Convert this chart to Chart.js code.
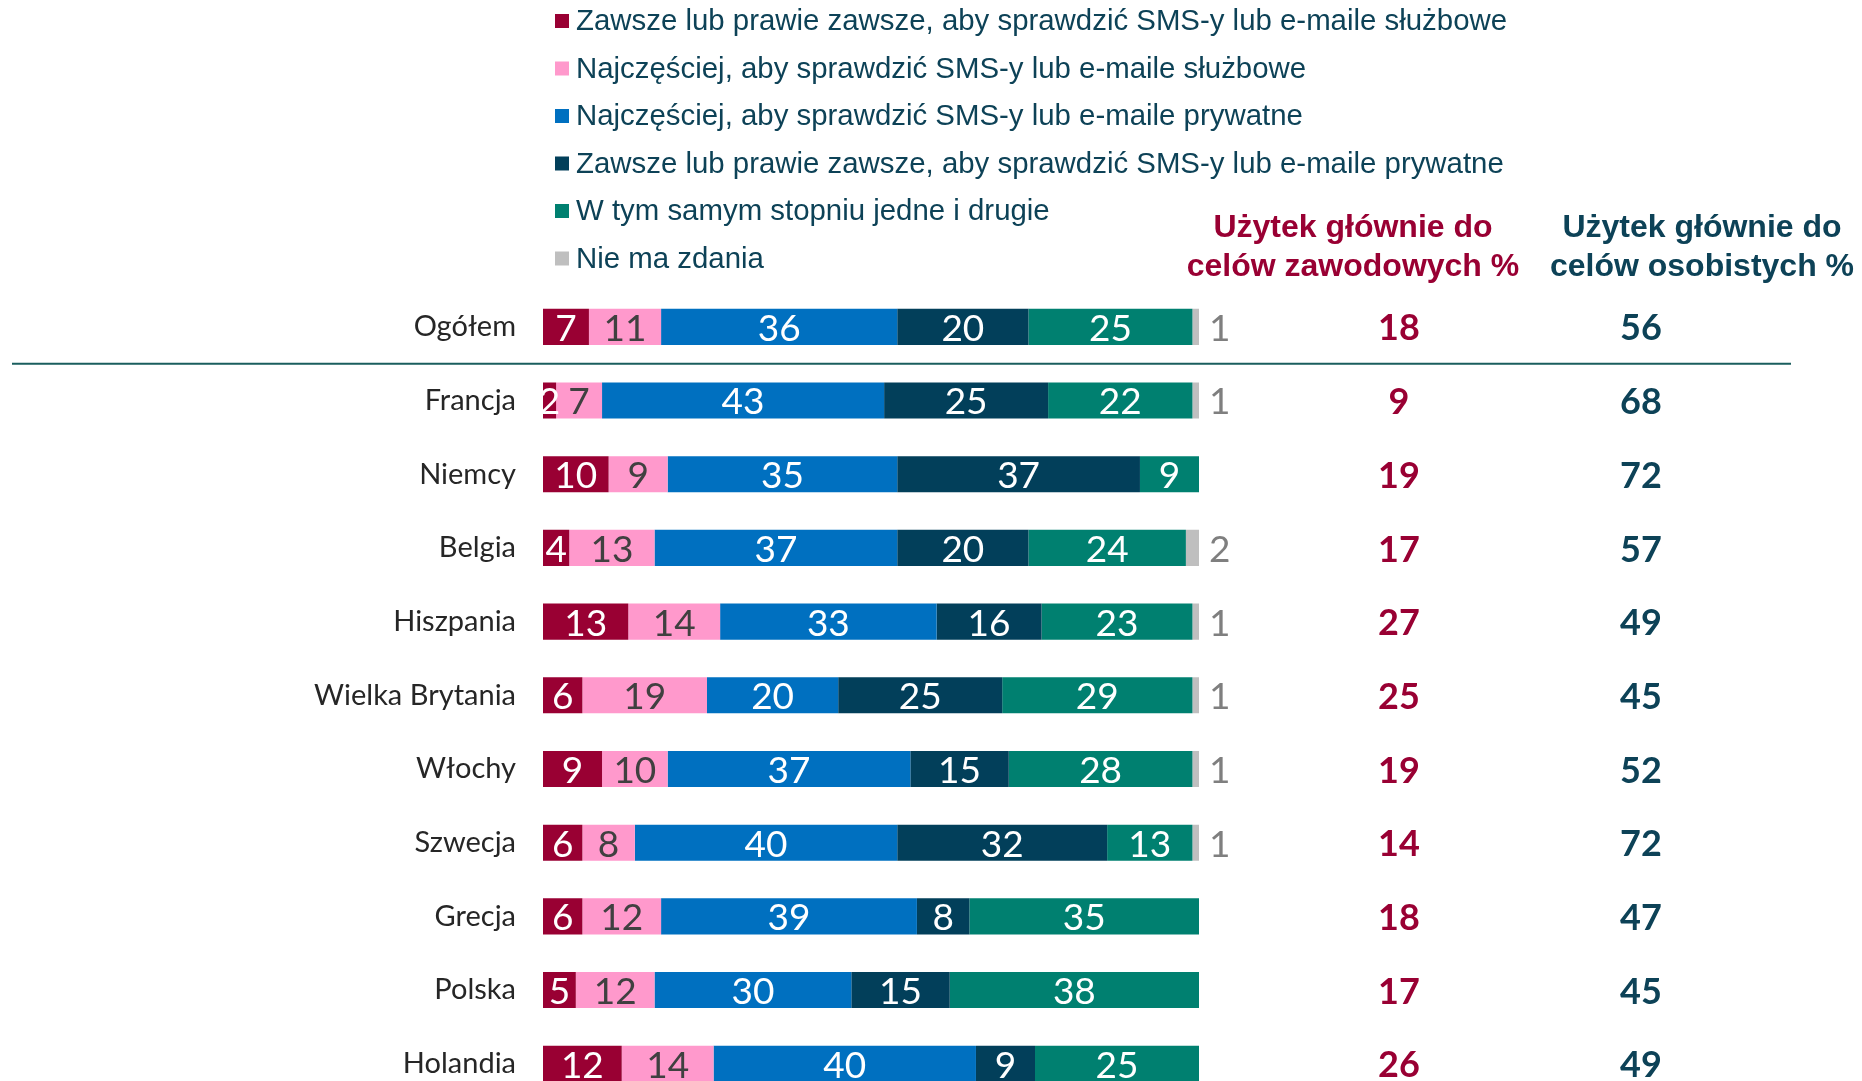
<!DOCTYPE html>
<html lang="pl">
<head>
<meta charset="utf-8">
<title>Użytek telefonu</title>
<script src="https://cdn.jsdelivr.net/npm/chart.js@4.4.1/dist/chart.umd.min.js"></script>
<style>
  html, body { margin: 0; padding: 0; background: #fff; overflow: hidden; }
  canvas { display: block; }
</style>
</head>
<body>
<canvas id="chart" width="1862" height="1145"></canvas>
<script>
// Dane (%)
const categories = ['Ogółem', 'Francja', 'Niemcy', 'Belgia', 'Hiszpania', 'Wielka Brytania', 'Włochy', 'Szwecja', 'Grecja', 'Polska', 'Holandia'];
const workAlways = [7, 2, 10, 4, 13, 6, 9, 6, 6, 5, 12];
const workMostly = [11, 7, 9, 13, 14, 19, 10, 8, 12, 12, 14];
const privMostly = [36, 43, 35, 37, 33, 20, 37, 40, 39, 30, 40];
const privAlways = [20, 25, 37, 20, 16, 25, 15, 32, 8, 15, 9];
const bothEqually = [25, 22, 9, 24, 23, 29, 28, 13, 35, 38, 25];
const noOpinion = [1, 1, null, 2, 1, 1, 1, 1, null, null, null];
const workTotal = [18, 9, 19, 17, 27, 25, 19, 14, 18, 17, 26];
const privTotal = [56, 68, 72, 57, 49, 45, 52, 72, 47, 45, 49];

const seriesLabels = [
    'Zawsze lub prawie zawsze, aby sprawdzić SMS-y lub e-maile służbowe',
    'Najczęściej, aby sprawdzić SMS-y lub e-maile służbowe',
    'Najczęściej, aby sprawdzić SMS-y lub e-maile prywatne',
    'Zawsze lub prawie zawsze, aby sprawdzić SMS-y lub e-maile prywatne',
    'W tym samym stopniu jedne i drugie',
    'Nie ma zdania'
];
const headerWork = ['Użytek głównie do', 'celów zawodowych %'];
const headerPriv = ['Użytek głównie do', 'celów osobistych %'];

const COLORS = ['#990033', '#ff99cc', '#0070c0', '#023f5a', '#008070', '#bfbfbf'];
const LABEL_COLORS = ['#ffffff', '#404040', '#ffffff', '#ffffff', '#ffffff', '#7f7f7f'];
const CRIMSON = '#990033';
const NAVY = '#0d4257';

const dataSets = [workAlways, workMostly, privMostly, privAlways, bothEqually, noOpinion];

// Etykiety, legenda, nagłówki i kolumny po prawej
const overlay = {
    id: 'overlay',
    afterDatasetsDraw(chart) {
        const { ctx, scales: { y } } = chart;
        ctx.save();

        // wartości na słupkach
        chart.data.datasets.forEach((ds, di) => {
            const meta = chart.getDatasetMeta(di);
            meta.data.forEach((bar, i) => {
                const v = ds.data[i];
                if (v == null) return;
                ctx.fillStyle = LABEL_COLORS[di];
                ctx.font = '37px Lato';
                ctx.textBaseline = 'middle';
                if (di === 5) {
                    ctx.textAlign = 'left';
                    ctx.fillText(v, bar.x + 10, bar.y + 2);
                } else {
                    ctx.textAlign = 'center';
                    ctx.fillText(v, (bar.x + bar.base) / 2, bar.y + 2);
                }
            });
        });

        // kolumny po prawej
        ctx.font = 'bold 36px Lato';
        ctx.textAlign = 'center';
        categories.forEach((c, i) => {
            const py = y.getPixelForValue(i) + 2;
            ctx.fillStyle = CRIMSON;
            ctx.fillText(workTotal[i], 1399, py);
            ctx.fillStyle = NAVY;
            ctx.fillText(privTotal[i], 1641, py);
        });

        // linia oddzielająca
        const sepY = (y.getPixelForValue(0) + y.getPixelForValue(1)) / 2;
        ctx.strokeStyle = '#1a5e5e';
        ctx.lineWidth = 2;
        ctx.beginPath();
        ctx.moveTo(12, sepY);
        ctx.lineTo(1791, sepY);
        ctx.stroke();

        // nagłówki
        ctx.font = 'bold 32px "Liberation Sans"';
        ctx.fillStyle = CRIMSON;
        headerWork.forEach((t, k) => ctx.fillText(t, 1353, 228 + k * 39));
        ctx.fillStyle = NAVY;
        headerPriv.forEach((t, k) => ctx.fillText(t, 1702, 228 + k * 39));

        // legenda
        ctx.font = '29.4px "Liberation Sans"';
        ctx.textAlign = 'left';
        chart.data.datasets.forEach((ds, di) => {
            const ly = 21 + di * 47.5;
            ctx.fillStyle = ds.backgroundColor;
            ctx.fillRect(555, ly - 7, 14, 14);
            ctx.fillStyle = NAVY;
            ctx.fillText(ds.label, 576, ly + 1);
        });

        ctx.restore();
    }
};

new Chart(document.getElementById('chart'), {
    type: 'bar',
    data: {
        labels: categories,
        datasets: dataSets.map((d, i) => ({
            label: seriesLabels[i],
            data: d,
            backgroundColor: COLORS[i],
            borderWidth: 0,
            barPercentage: 0.49,
            categoryPercentage: 1
        }))
    },
    options: {
        indexAxis: 'y',
        responsive: false,
        animation: false,
        layout: { padding: { left: 0, right: 663, top: 290, bottom: 0 } },
        plugins: { legend: { display: false }, tooltip: { enabled: false } },
        scales: {
            x: { stacked: true, min: 0, max: 100, display: false },
            y: {
                stacked: true,
                grid: { display: false, drawTicks: false },
                border: { display: false },
                ticks: { color: '#262626', font: { family: 'Lato', size: 29 }, padding: 27 },
                afterFit: (scale) => { scale.width = 543; }
            }
        }
    },
    plugins: [overlay]
});
</script>
</body>
</html>
